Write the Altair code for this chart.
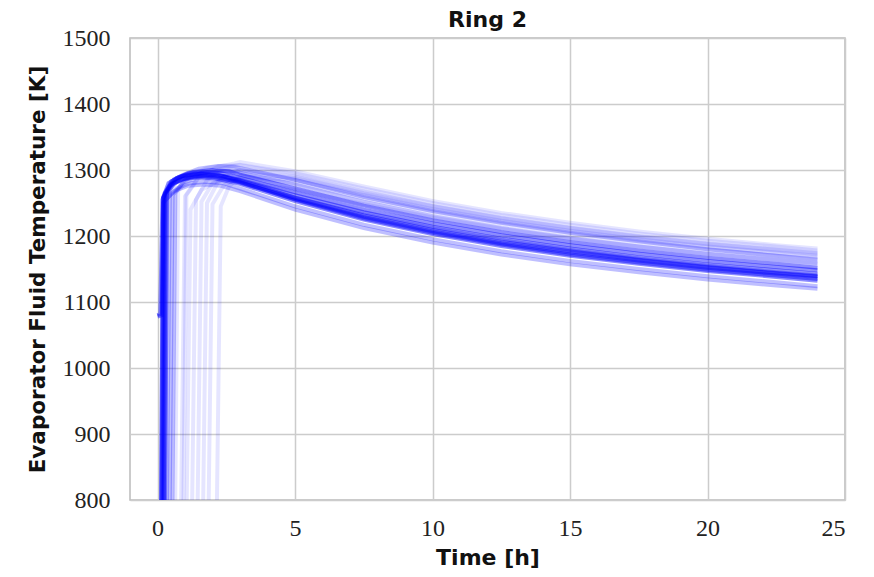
import altair as alt
import pandas as pd

# shared time grid for the slow cooling tail [h]
TAIL_TIME = [3, 5, 7.5, 10, 12.5, 15, 17.5, 20, 22.5, 24]

SERIES = ["d1", "d2", "d3", "d4", "d5", "d6", "d7",
          "m1", "m2", "m3", "m4", "m5",
          "f1", "f2", "f3", "f4", "f5", "f6", "f7", "f8", "f9"]
OPACITY = [0.45, 0.45, 0.45, 0.45, 0.45, 0.45, 0.45,
           0.25, 0.25, 0.25, 0.25, 0.25,
           0.1, 0.1, 0.1, 0.1, 0.1, 0.1, 0.1, 0.1, 0.1]

# start-up (head) part of each run: times [h] and temperatures [K]
HEAD_TIME = [
    [0, 0.1, 0.18, 0.4, 0.8, 1.5, 2.2],
    [0.12, 0.22, 0.5, 1.0, 1.6, 2.2],
    [0.15, 0.26, 0.6, 1.1, 1.8, 2.3],
    [0.2, 0.3, 0.6, 1.2, 1.8, 2.4],
    [0, 0.15, 0.22, 0.5, 1.0, 1.6, 2.2],
    [0.25, 0.35, 0.7, 1.3, 2.0, 2.6],
    [0.1, 0.2, 0.45, 0.9, 1.5, 2.1],
    [0.3, 0.45, 0.9, 1.5, 2.2, 2.8],
    [0.5, 0.65, 1.0, 1.6, 2.3, 2.9],
    [0.4, 0.55, 0.9, 1.4, 2.0],
    [0.2, 0.3, 0.7, 1.2, 1.8, 2.4],
    [0.1, 0.2, 0.6, 1.1, 1.7, 2.3],
    [0.8, 1.0, 1.5, 2.2, 2.8],
    [1.2, 1.4, 1.8, 2.2, 2.6],
    [1.6, 1.8, 2.2, 2.6],
    [2.1, 2.3, 2.6],
    [0.6, 0.75, 1.2, 1.8, 2.4],
    [1.0, 1.2, 1.6, 2.2, 2.7],
    [0.9, 1.05, 1.5, 2.1, 2.6],
    [1.4, 1.6, 2.0, 2.5],
    [1.8, 2.0, 2.4, 2.8],
]
HEAD_TEMP = [
    [1080, 1082, 1255, 1280, 1290, 1294, 1292],
    [600, 1260, 1283, 1292, 1295, 1293],
    [600, 1265, 1286, 1295, 1297, 1295],
    [600, 1262, 1280, 1290, 1292, 1290],
    [1078, 1080, 1258, 1279, 1288, 1291, 1289],
    [600, 1268, 1288, 1297, 1300, 1298],
    [600, 1258, 1276, 1286, 1289, 1287],
    [600, 1270, 1292, 1302, 1306, 1305],
    [600, 1265, 1285, 1296, 1299, 1298],
    [600, 1262, 1280, 1287, 1288],
    [600, 1255, 1272, 1280, 1282, 1280],
    [600, 1250, 1268, 1276, 1278, 1276],
    [600, 1260, 1290, 1305, 1310],
    [600, 1255, 1285, 1300, 1305],
    [600, 1250, 1282, 1295],
    [600, 1245, 1275],
    [600, 1268, 1292, 1303, 1307],
    [600, 1240, 1270, 1283, 1285],
    [600, 1262, 1288, 1298, 1301],
    [600, 1252, 1280, 1292],
    [600, 1248, 1276, 1288],
]
# cooling (tail) part, on TAIL_TIME
TAIL_TEMP = [
    [1285, 1262, 1236, 1214, 1196, 1181, 1168, 1157, 1148, 1143],
    [1284, 1258, 1231, 1209, 1191, 1177, 1164, 1153, 1144, 1139],
    [1288, 1266, 1240, 1219, 1201, 1186, 1173, 1162, 1153, 1148],
    [1282, 1255, 1227, 1205, 1187, 1172, 1160, 1149, 1140, 1135],
    [1281, 1256, 1229, 1207, 1189, 1175, 1163, 1152, 1143, 1138],
    [1293, 1272, 1246, 1224, 1206, 1191, 1178, 1167, 1158, 1152],
    [1279, 1253, 1225, 1203, 1185, 1170, 1158, 1147, 1138, 1132],
    [1303, 1285, 1259, 1238, 1220, 1205, 1192, 1180, 1170, 1164],
    [1296, 1278, 1252, 1230, 1212, 1197, 1184, 1173, 1164, 1158],
    [1282, 1258, 1233, 1212, 1194, 1179, 1166, 1155, 1145, 1140],
    [1272, 1245, 1217, 1195, 1177, 1162, 1150, 1139, 1130, 1124],
    [1268, 1240, 1212, 1190, 1172, 1157, 1145, 1134, 1125, 1120],
    [1312, 1298, 1275, 1253, 1235, 1220, 1207, 1196, 1186, 1181],
    [1308, 1295, 1272, 1250, 1232, 1217, 1204, 1193, 1184, 1178],
    [1300, 1290, 1265, 1244, 1226, 1211, 1198, 1187, 1178, 1172],
    [1290, 1285, 1262, 1240, 1222, 1207, 1194, 1183, 1174, 1168],
    [1307, 1292, 1268, 1246, 1228, 1213, 1200, 1189, 1180, 1175],
    [1284, 1270, 1248, 1228, 1211, 1196, 1184, 1173, 1164, 1159],
    [1300, 1286, 1262, 1241, 1223, 1208, 1195, 1184, 1175, 1170],
    [1296, 1288, 1266, 1245, 1227, 1212, 1199, 1188, 1179, 1174],
    [1290, 1280, 1257, 1236, 1218, 1203, 1190, 1179, 1170, 1165],
]

rows = []
for name, op, ht, hT, tT in zip(SERIES, OPACITY, HEAD_TIME, HEAD_TEMP, TAIL_TEMP):
    k = 0
    for t, T in zip(ht + TAIL_TIME, hT + tT):
        rows.append({"run": name, "op": op, "t": t, "T": T, "k": k})
        k += 1
df = pd.DataFrame(rows)

label_font = "Liberation Serif"
title_font = "DejaVu Sans"

chart = alt.Chart(df).mark_line(color="#0000ff", strokeWidth=4, clip=True).encode(
    x=alt.X("t:Q",
            scale=alt.Scale(domain=[-1, 25], nice=False),
            axis=alt.Axis(values=[0, 5, 10, 15, 20, 25], title="Time [h]", format="d",
                          grid=True, gridColor="#cccccc", gridWidth=1.5,
                          domain=False, ticks=False,
                          labelFont=label_font, labelFontSize=24, labelColor="#222222",
                          labelPadding=16, titleFont=title_font, titleFontWeight="bold",
                          titleFontSize=22, titleColor="#111111", titlePadding=7)),
    y=alt.Y("T:Q",
            scale=alt.Scale(domain=[800, 1500], nice=False),
            axis=alt.Axis(values=list(range(800, 1501, 100)), format="d",
                          title="Evaporator Fluid Temperature [K]",
                          grid=True, gridColor="#cccccc", gridWidth=1.5,
                          domain=False, ticks=False,
                          labelFont=label_font, labelFontSize=24, labelColor="#222222",
                          labelPadding=20, titleFont=title_font, titleFontWeight="bold",
                          titleFontSize=21.5, titleColor="#111111", titlePadding=13)),
    detail="run:N",
    order="k:Q",
    opacity=alt.Opacity("op:Q", scale=None),
).properties(
    width=715, height=462,
    autosize=alt.AutoSizeParams(type="none"),
    padding={"left": 122, "top": 30, "right": 21, "bottom": 69},
    title=alt.TitleParams("Ring 2", font=title_font, fontWeight="bold", fontSize=22,
                          color="#111111", offset=-6, anchor="middle"),
    background="white",
).configure_view(stroke="#bbbbbb", strokeWidth=1.5)

chart.save("out.html", embed_options={"renderer": "svg", "actions": False})
